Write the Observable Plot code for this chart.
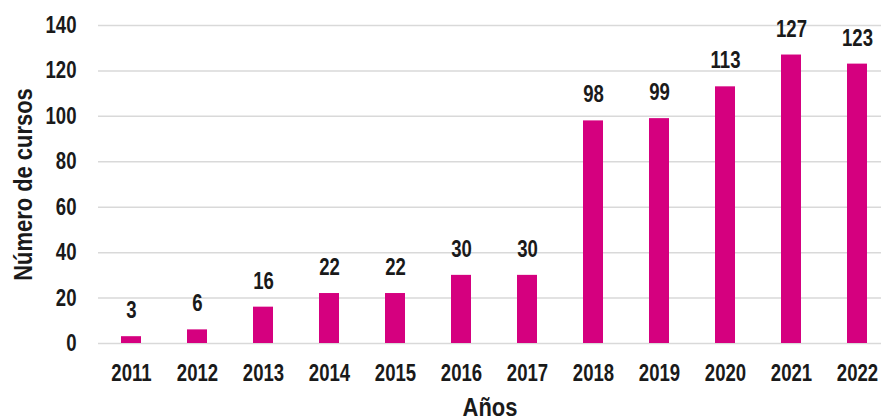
<!DOCTYPE html>
<html>
<head>
<meta charset="utf-8">
<script src="https://cdn.jsdelivr.net/npm/d3@7"></script>
<script src="https://cdn.jsdelivr.net/npm/@observablehq/plot@0.6"></script>
<style>
  html, body { margin: 0; padding: 0; background: #fff; }
  #chart svg { display: block; }
</style>
</head>
<body>
<div id="chart"></div>
<script>
const years = ["2011","2012","2013","2014","2015","2016","2017","2018","2019","2020","2021","2022"];
const cursos = [3, 6, 16, 22, 22, 30, 30, 98, 99, 113, 127, 123];
const yTicks = [0, 20, 40, 60, 80, 100, 120, 140];
const yTitle = "Número de cursos";
const xTitle = "Años";

const data = years.map((y, i) => ({year: y, value: cursos[i]}));
const font = "'Liberation Sans', Arial, sans-serif";
const ink = "#1a1a1a";
const fs = 23.5;
const titleFs = 25.5;

const chart = Plot.plot({
  width: 881,
  height: 419,
  marginLeft: 98,
  marginRight: 0,
  marginTop: 25,
  marginBottom: 76,
  style: {fontFamily: font, fontSize: fs + "px", fontWeight: "bold", color: ink, background: "#fff"},
  x: {domain: years, range: [98, 890], paddingInner: 0.69, paddingOuter: 0.345, label: null},
  y: {domain: [0, 140], range: [343, 25], label: null},
  marks: [
    Plot.gridY(yTicks, {stroke: "#d9d9d9", strokeOpacity: 1, strokeWidth: 1.5}),
    Plot.barY(data, {x: "year", y: "value", fill: "#d5007f"}),
    Plot.text(data, {x: "year", y: "value", text: d => String(d.value), dy: -26, lineAnchor: "middle", fill: ink, fontSize: fs, fontWeight: "bold"}),
    Plot.axisY(yTicks, {tickSize: 0, tickPadding: 22, label: null, fontSize: fs}),
    Plot.axisX({tickSize: 0, tickPadding: 21, label: null, fontSize: fs}),
    Plot.text([yTitle], {frameAnchor: "left", dx: -75, rotate: -90, textAnchor: "middle", lineAnchor: "middle", text: d => d, fontSize: titleFs, fontWeight: "bold", fill: ink}),
    Plot.text([xTitle], {frameAnchor: "bottom", dy: 64, textAnchor: "middle", lineAnchor: "middle", text: d => d, fontSize: titleFs, fontWeight: "bold", fill: ink})
  ]
});
document.getElementById("chart").appendChild(chart);

// Emulate the reference's narrow (condensed) typeface by compressing glyphs horizontally.
chart.querySelectorAll("text").forEach(t => {
  const s = t.textContent;
  if (!s) return;
  const len = t.getComputedTextLength();
  if (len > 0) {
    const k = (s === yTitle || s === xTitle) ? 0.86 : 0.79;
    t.setAttribute("textLength", (len * k).toFixed(2));
    t.setAttribute("lengthAdjust", "spacingAndGlyphs");
  }
});
</script>
</body>
</html>
